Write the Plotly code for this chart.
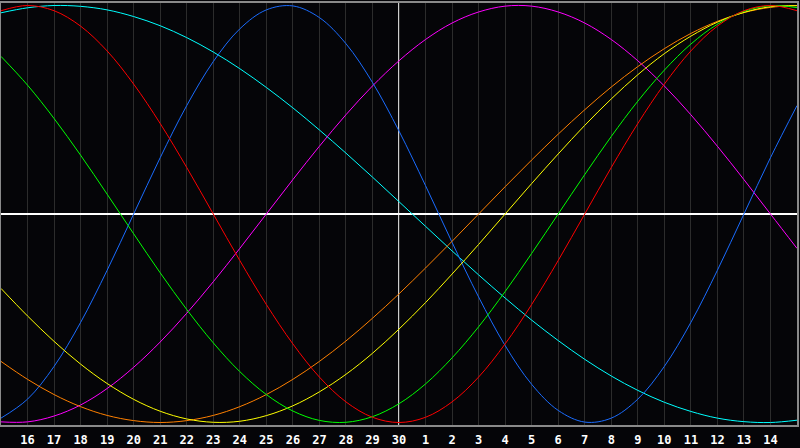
import plotly.graph_objects as go

# day index 0..30 (day 15 of the month .. day 15 of next month)
days = list(range(31))
tick_pos = list(range(1, 30))
tick_labels = [str(v) for v in range(16, 31)] + [str(v) for v in range(1, 15)]

red = [0.975, 1.0, 0.975, 0.901, 0.782, 0.623, 0.434, 0.223, 0.0, -0.223, -0.434,
       -0.623, -0.782, -0.901, -0.975, -1.0, -0.975, -0.901, -0.782, -0.623, -0.434,
       -0.223, 0.0, 0.223, 0.434, 0.623, 0.782, 0.901, 0.975, 1.0, 0.975]
blue = [-0.979, -0.888, -0.731, -0.520, -0.270, 0.0, 0.270, 0.520, 0.731, 0.888, 0.979,
        0.998, 0.942, 0.817, 0.631, 0.398, 0.136, -0.136, -0.398, -0.631, -0.817,
        -0.942, -0.998, -0.979, -0.888, -0.731, -0.520, -0.270, 0.0, 0.270, 0.520]
green = [0.756, 0.618, 0.458, 0.282, 0.095, -0.095, -0.282, -0.458, -0.618, -0.756, -0.866,
         -0.945, -0.990, -0.999, -0.972, -0.910, -0.815, -0.690, -0.541, -0.372, -0.189,
         0.0, 0.189, 0.372, 0.541, 0.690, 0.815, 0.910, 0.972, 0.999, 0.990]
magenta = [-0.997, -0.997, -0.969, -0.916, -0.837, -0.735, -0.614, -0.476, -0.325, -0.165, 0.0,
           0.165, 0.325, 0.476, 0.614, 0.735, 0.837, 0.916, 0.969, 0.997, 0.997,
           0.969, 0.916, 0.837, 0.735, 0.614, 0.476, 0.325, 0.165, 0.0, -0.165]
cyan = [0.965, 0.989, 1.0, 0.996, 0.979, 0.947, 0.903, 0.846, 0.777, 0.697, 0.607,
        0.509, 0.403, 0.292, 0.177, 0.059, -0.059, -0.177, -0.292, -0.403, -0.509,
        -0.607, -0.697, -0.777, -0.846, -0.903, -0.947, -0.979, -0.996, -1.0, -0.989]
orange = [-0.707, -0.793, -0.866, -0.924, -0.966, -0.991, -1.0, -0.991, -0.966, -0.924, -0.866,
          -0.793, -0.707, -0.609, -0.500, -0.383, -0.259, -0.131, 0.0, 0.131, 0.259,
          0.383, 0.5, 0.609, 0.707, 0.793, 0.866, 0.924, 0.966, 0.991, 1.0]
yellow = [-0.357, -0.489, -0.611, -0.720, -0.813, -0.889, -0.946, -0.983, -0.999, -0.994, -0.967,
          -0.920, -0.853, -0.769, -0.668, -0.552, -0.425, -0.288, -0.146, 0.0, 0.146,
          0.288, 0.425, 0.552, 0.668, 0.769, 0.853, 0.920, 0.967, 0.994, 0.999]

series = [
    ("cyan", cyan, "#00ffff"),
    ("magenta", magenta, "#ff00ff"),
    ("blue", blue, "#1a6cff"),
    ("orange", orange, "#ff8000"),
    ("yellow", yellow, "#ffff00"),
    ("green", green, "#00ff00"),
    ("red", red, "#ff0000"),
]

fig = go.Figure()
for name, vals, col in series:
    fig.add_trace(go.Scatter(x=days, y=vals, mode="lines", name=name,
                             line=dict(color=col, width=1, shape="spline", smoothing=1.0),
                             hoverinfo="skip"))

fig.add_shape(type="line", xref="x", yref="paper", x0=15, x1=15, y0=0, y1=1,
              line=dict(color="#ffffff", width=1.6), layer="below")

fig.update_layout(
    width=800, height=448,
    margin=dict(l=1, r=1, t=1, b=20),
    paper_bgcolor="#050508",
    plot_bgcolor="#050508",
    showlegend=False,
    xaxis=dict(range=[0, 30], tickvals=tick_pos, ticktext=tick_labels,
               showgrid=True, gridcolor="#2c2c2c", gridwidth=1,
               showline=True, linecolor="#8a8a8a", linewidth=1.5, mirror=True,
               zeroline=False, ticks="", ticklabelstandoff=3,
               tickfont=dict(family="DejaVu Sans Mono", size=12, color="#ffffff", weight="bold"),
               fixedrange=True),
    yaxis=dict(range=[-1.012, 1.012], showgrid=False, showticklabels=False,
               zeroline=True, zerolinecolor="#ffffff", zerolinewidth=1.5,
               showline=True, linecolor="#8a8a8a", linewidth=1.5, mirror=True,
               ticks="", fixedrange=True),
)

fig.write_html("out.html", config={"displayModeBar": False},
               post_script="document.body.style.margin='0';document.body.style.padding='0';"
                           "document.body.style.overflow='hidden';"
                           "document.body.style.background='#050508';")
